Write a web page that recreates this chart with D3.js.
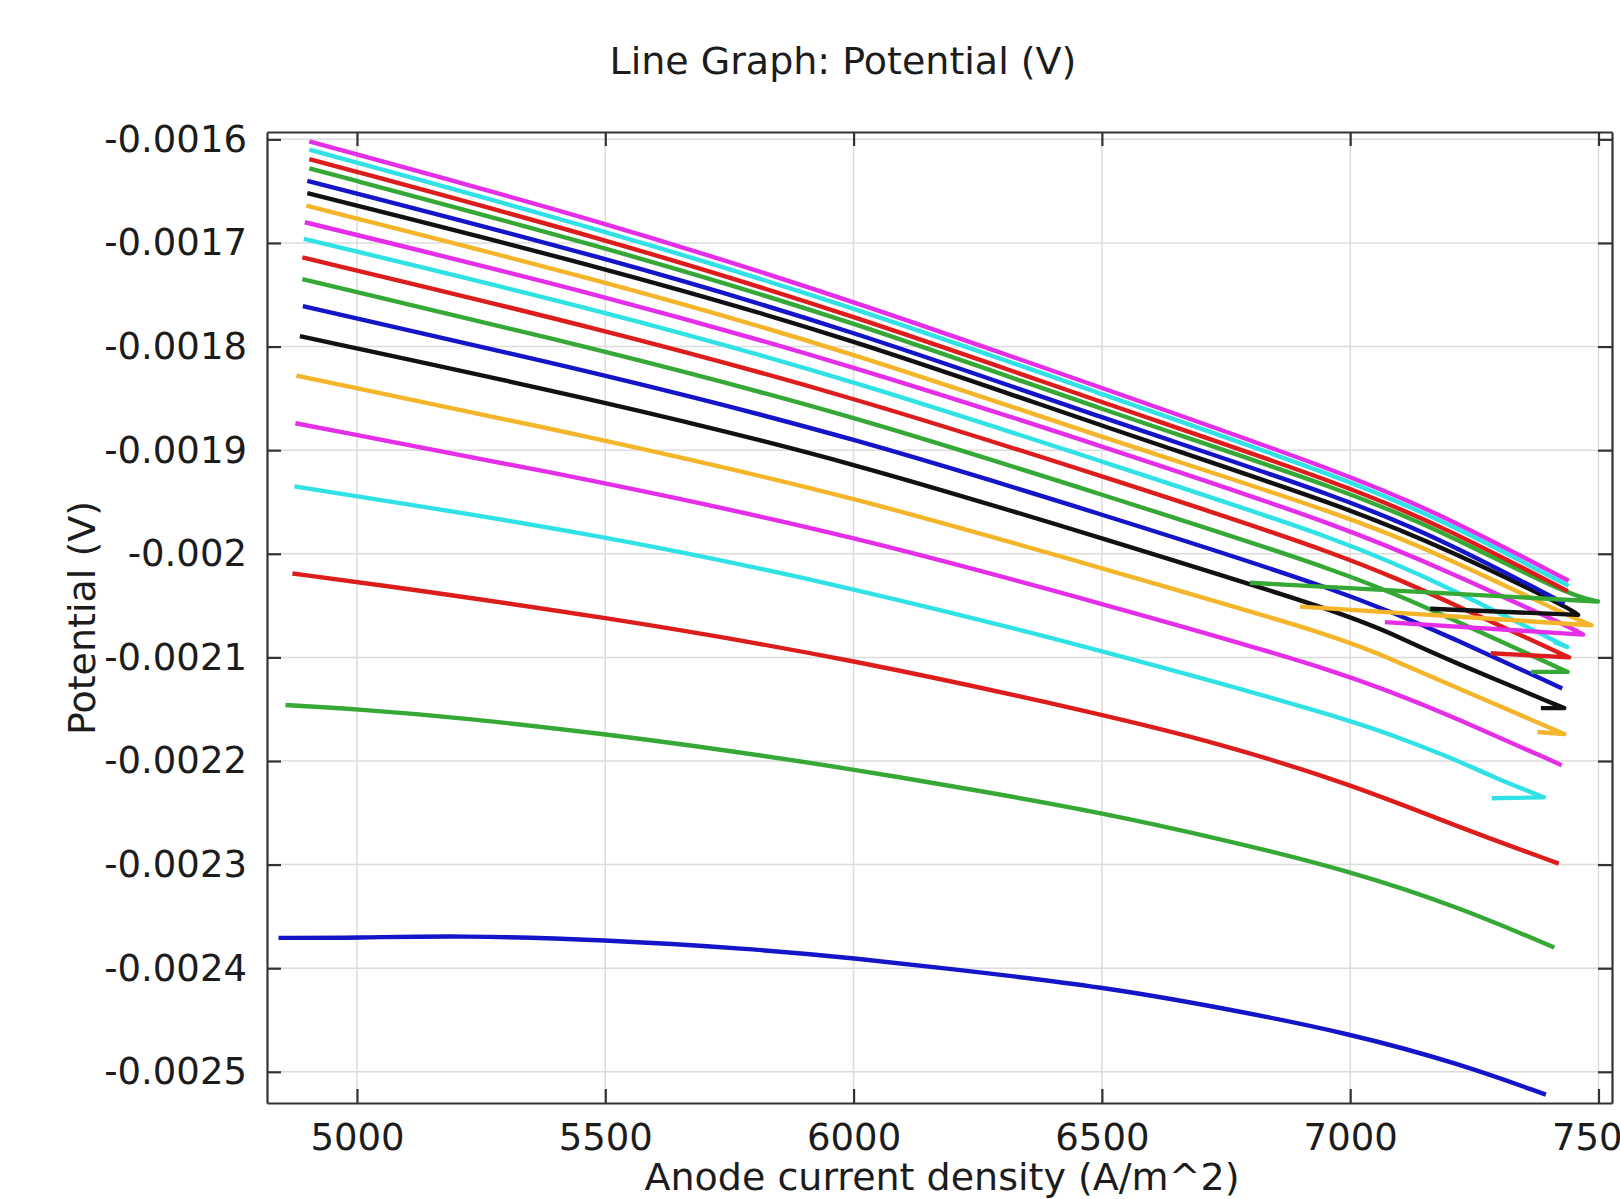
<!DOCTYPE html>
<html>
<head>
<meta charset="utf-8">
<script src="https://cdn.jsdelivr.net/npm/d3@7"></script>
<style>
  body { margin: 0; background: #fff; }
  svg { display: block; }
  text { font-family: 'DejaVu Sans', sans-serif; fill: #1c1c1c; }
</style>
</head>
<body>
<svg width="1620" height="1199"></svg>
<script>
var xTicks = [5000, 5500, 6000, 6500, 7000, 7500];
var xTickLabels = ['5000', '5500', '6000', '6500', '7000', '7500'];
var yTicks = [-0.0016, -0.0017, -0.0018, -0.0019, -0.002, -0.0021, -0.0022, -0.0023, -0.0024, -0.0025];
var yTickLabels = ['-0.0016', '-0.0017', '-0.0018', '-0.0019', '-0.002', '-0.0021', '-0.0022', '-0.0023', '-0.0024', '-0.0025'];

// COMSOL colour cycle: blue, green, red, cyan, magenta, yellow, black
var lineColors = ['#1414c8', '#35a835', '#dd1c1c', '#30e2e6', '#e42ee8', '#f4b52a', '#111111'];

// [anode current density (A/m^2), potential (V)], bottom curve first
var line01 = [[4842, -0.0023707], [5000, -0.0023707], [5206, -0.0023684], [5500, -0.0023726], [5784, -0.002381], [6000, -0.00239], [6256, -0.002404], [6500, -0.002418], [6729, -0.002437], [7000, -0.002463], [7219, -0.002492], [7394, -0.002522]];
var line02 = [[4856, -0.002146], [5000, -0.00215], [5206, -0.002158], [5500, -0.002174], [5749, -0.00219], [6000, -0.002208], [6256, -0.002229], [6500, -0.00225], [6729, -0.002274], [7000, -0.002306], [7219, -0.002341], [7411, -0.00238]];
var line03 = [[4870, -0.002019], [5000, -0.002027], [5500, -0.002061], [6000, -0.002102], [6500, -0.002155], [6729, -0.002182], [7000, -0.002222], [7219, -0.002264], [7420, -0.002299]];
var line04 = [[4874, -0.001935], [5500, -0.001982], [6000, -0.002033], [6500, -0.002093], [7000, -0.00216], [7100, -0.002178], [7200, -0.002196], [7290, -0.002216], [7390, -0.002235], [7285, -0.002236]];
var line05 = [[4876, -0.001874], [5500, -0.001931], [6000, -0.001983], [6500, -0.002048], [7000, -0.002116], [7200, -0.002156], [7426, -0.002204]];
var line06 = [[4878, -0.001828], [5500, -0.00189], [6000, -0.001945], [6500, -0.002014], [7000, -0.002083], [7100, -0.002106], [7200, -0.002126], [7431, -0.002174], [7377, -0.002172]];
var line07 = [[4885, -0.00179], [5500, -0.001853], [6000, -0.001912], [6500, -0.001985], [7000, -0.002059], [7100, -0.002081], [7200, -0.002103], [7431, -0.002149], [7384, -0.002149]];
var line08 = [[4891, -0.001761], [5500, -0.001827], [6000, -0.001888], [6500, -0.001962], [7000, -0.002038], [7214, -0.002083], [7427, -0.00213]];
var line09 = [[4890, -0.001735], [5500, -0.001804], [6000, -0.001867], [6500, -0.001943], [7000, -0.002019], [7200, -0.002062], [7438, -0.002114], [7364, -0.002114]];
var line10 = [[4890, -0.001714], [5500, -0.001784], [6000, -0.001849], [6500, -0.001925], [7000, -0.002003], [7200, -0.002047], [7441, -0.0021], [7283, -0.002096]];
var line11 = [[4893, -0.001696], [5500, -0.001766], [6000, -0.001833], [6500, -0.001911], [7000, -0.001989], [7200, -0.002033], [7437, -0.00209], [7410, -0.002085]];
var line12 = [[4895, -0.00168], [5500, -0.001751], [6000, -0.001819], [6500, -0.001896], [7000, -0.001976], [7200, -0.002018], [7440, -0.00207], [7469, -0.002078], [7070, -0.002066]];
var line13 = [[4898, -0.001664], [5500, -0.001737], [6000, -0.001806], [6500, -0.001888], [7000, -0.001964], [7200, -0.002005], [7440, -0.00206], [7486, -0.002069], [6899, -0.002051]];
var line14 = [[4900, -0.001652], [5500, -0.001724], [6000, -0.001793], [6500, -0.001877], [7000, -0.001956], [7200, -0.001997], [7440, -0.002052], [7459, -0.002059], [7161, -0.002053]];
var line15 = [[4900, -0.00164], [5500, -0.001714], [6000, -0.001785], [6500, -0.001869], [7000, -0.001948], [7200, -0.00199], [7432, -0.002048]];
var line16 = [[4904, -0.001628], [5500, -0.001704], [6000, -0.001776], [6500, -0.001861], [7000, -0.00194], [7200, -0.001982], [7440, -0.00204], [7499, -0.002046], [6798, -0.002028]];
var line17 = [[4904, -0.001619], [5500, -0.001696], [6000, -0.00177], [6500, -0.001854], [7000, -0.001935], [7200, -0.001977], [7438, -0.002036]];
var line18 = [[4904, -0.00161], [5500, -0.001688], [6000, -0.001762], [6500, -0.001846], [7000, -0.001929], [7200, -0.001971], [7440, -0.002031]];
var line19 = [[4904, -0.001602], [5500, -0.00168], [6000, -0.001756], [6500, -0.00184], [7000, -0.001924], [7200, -0.001966], [7440, -0.002026]];

(function (d3) {
    'use strict';

    var lines = [line01, line02, line03, line04, line05, line06, line07, line08, line09, line10,
                 line11, line12, line13, line14, line15, line16, line17, line18, line19];

    var svg = d3.select('svg'),
        plot = { left: 267, right: 1612, top: 132, bottom: 1103 },
        tickLen = 14;

    var x = d3.scaleLinear().domain([4818.8, 7527.2]).range([plot.left, plot.right]),
        y = d3.scaleLinear().domain([-0.0015929, -0.0025301]).range([plot.top, plot.bottom]);

    // grid
    var grid = svg.append('g').attr('class', 'grid');
    grid.selectAll('.gx').data(xTicks).enter().append('line')
        .attr('x1', function (d) { return x(d); }).attr('x2', function (d) { return x(d); })
        .attr('y1', plot.top).attr('y2', plot.bottom)
        .attr('stroke', '#dcdcdc').attr('stroke-width', 1.5);
    grid.selectAll('.gy').data(yTicks).enter().append('line')
        .attr('x1', plot.left).attr('x2', plot.right)
        .attr('y1', function (d) { return y(d); }).attr('y2', function (d) { return y(d); })
        .attr('stroke', '#dcdcdc').attr('stroke-width', 1.5);

    // smooth over the rising part, then straight segments for the tail that runs back
    var smooth = d3.line()
        .x(function (d) { return x(d[0]); })
        .y(function (d) { return y(d[1]); })
        .curve(d3.curveBasis);

    function curvePath(pts) {
        var k = d3.maxIndex(pts, function (d) { return d[0]; }),
            path = smooth(pts.slice(0, k + 1));
        pts.slice(k + 1).forEach(function (d) {
            path += 'L' + x(d[0]) + ',' + y(d[1]);
        });
        return path;
    }

    svg.append('g').attr('class', 'curves')
        .selectAll('path')
        .data(lines)
        .enter().append('path')
        .attr('d', curvePath)
        .attr('fill', 'none')
        .attr('stroke', function (d, i) { return lineColors[i % lineColors.length]; })
        .attr('stroke-width', 4.4)
        .attr('stroke-linejoin', 'round');

    // axes, ticks pointing inwards on all four sides
    var fmtX = function (d) { return xTickLabels[xTicks.indexOf(d)]; },
        fmtY = function (d) { return yTickLabels[yTicks.indexOf(d)]; };

    var axB = svg.append('g')
        .attr('transform', 'translate(0,' + plot.bottom + ')')
        .call(d3.axisBottom(x).tickValues(xTicks).tickFormat(fmtX)
            .tickSizeInner(-tickLen).tickSizeOuter(0).tickPadding(21));
    var axL = svg.append('g')
        .attr('transform', 'translate(' + plot.left + ',0)')
        .call(d3.axisLeft(y).tickValues(yTicks).tickFormat(fmtY)
            .tickSizeInner(-tickLen).tickSizeOuter(0).tickPadding(20));
    var axT = svg.append('g')
        .attr('transform', 'translate(0,' + plot.top + ')')
        .call(d3.axisTop(x).tickValues(xTicks).tickFormat('')
            .tickSizeInner(-tickLen).tickSizeOuter(0));
    var axR = svg.append('g')
        .attr('transform', 'translate(' + plot.right + ',0)')
        .call(d3.axisRight(y).tickValues(yTicks).tickFormat('')
            .tickSizeInner(-tickLen).tickSizeOuter(0));

    [axB, axL, axT, axR].forEach(function (ax) {
        ax.select('.domain').attr('stroke', '#333').attr('stroke-width', 2.2);
        ax.selectAll('.tick line').attr('stroke', '#333').attr('stroke-width', 2.2);
        ax.selectAll('.tick text')
            .attr('font-family', "'DejaVu Sans', sans-serif")
            .attr('font-size', 37)
            .attr('fill', '#1c1c1c');
    });

    svg.append('text')
        .attr('x', 843).attr('y', 74)
        .attr('text-anchor', 'middle')
        .attr('font-size', 38)
        .text('Line Graph: Potential (V)');

    svg.append('text')
        .attr('x', 942).attr('y', 1190)
        .attr('text-anchor', 'middle')
        .attr('font-size', 38)
        .text('Anode current density (A/m^2)');

    svg.append('text')
        .attr('transform', 'translate(95,618) rotate(-90)')
        .attr('text-anchor', 'middle')
        .attr('font-size', 38)
        .text('Potential (V)');
})(window.d3);
</script>
</body>
</html>
